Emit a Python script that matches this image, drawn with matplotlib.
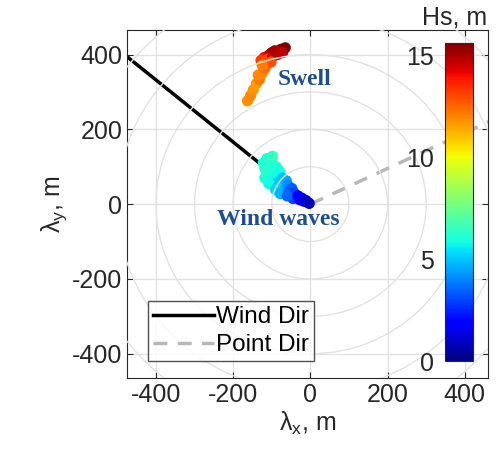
import numpy as np
import matplotlib
matplotlib.use("Agg")
import matplotlib.pyplot as plt
from matplotlib.patches import Circle

plt.rcParams['font.family'] = ['Liberation Sans', 'DejaVu Sans']
plt.rcParams['mathtext.default'] = 'regular'
plt.rcParams['axes.unicode_minus'] = False

# swell partition: wavelength components (m) and Hs (m)
swell_x = [-163, -155, -148, -140, -132, -135, -125, -118, -112, -120, -108, -100, -92, -85, -76,
           -65, -128, -110, -98, -88, -115, -102, -125, -72]
swell_y = [276, 290, 305, 322, 333, 345, 350, 362, 375, 392, 398, 405, 410, 400, 414,
           418, 384, 388, 394, 408, 370, 380, 372, 405]
swell_hs = [11.8, 12.0, 11.7, 11.6, 12.2, 11.9, 11.9, 12.3, 12.6, 13.8, 14.4, 14.9, 15.3, 14.2, 15.5,
            15.6, 13.2, 13.0, 14.6, 15.0, 12.4, 12.9, 12.1, 14.8]

# wind sea partition
wind_x = [-122, -118, -112, -108, -104, -100, -96, -110, -118, -102, -92, -88, -85, -95, -108, -80, -114, -98,
          -80, -72, -75, -68, -62, -85, -65, -58, -70, -90, -78,
          -55, -48, -50, -42, -38, -45, -60,
          -32, -28, -22, -18, -12, -8, -3]
wind_y = [110, 95, 122, 100, 85, 112, 95, 75, 70, 65, 80, 100, 70, 55, 55, 88, 88, 128,
          60, 70, 48, 55, 62, 45, 40, 50, 32, 38, 28,
          35, 42, 25, 30, 20, 15, 22,
          22, 12, 16, 8, 10, 5, 2]
wind_hs = [6.0, 6.2, 6.1, 6.2, 5.9, 6.2, 6.0, 5.9, 6.1, 5.8, 6.0, 6.2, 5.8, 5.5, 5.8, 5.9, 6.2, 6.4,
           5.1, 4.9, 4.7, 4.6, 4.5, 5.0, 4.3, 4.1, 4.4, 5.2, 4.7,
           3.6, 3.4, 3.2, 3.0, 2.8, 2.9, 3.5,
           2.0, 1.8, 1.6, 1.4, 1.2, 1.0, 0.8]

wind_dir_deg = 140.3
point_dir_deg = 25.5
circle_r = [100, 200, 300, 400, 500, 600]
ticks = [-400, -200, 0, 200, 400]

fig = plt.figure(figsize=(5.02, 4.72), dpi=100)
ax = fig.add_axes([0.253, 0.199, 0.719, 0.737])

# range rings
for r in circle_r:
    ax.add_patch(Circle((0, 0), r, fill=False, ec='#e2e2e2', lw=1.0, zorder=4))
ax.grid(True, color='#e2e2e2', lw=1.0)
ax.set_axisbelow(True)

L = 900
wl, = ax.plot([0, L*np.cos(np.radians(wind_dir_deg))], [0, L*np.sin(np.radians(wind_dir_deg))],
              color='black', lw=2.5, zorder=2, label='Wind Dir')
pl, = ax.plot([0, L*np.cos(np.radians(point_dir_deg))], [0, L*np.sin(np.radians(point_dir_deg))],
              color='#b8b8b8', lw=2.5, ls=(0, (4, 3)), zorder=2, label='Point Dir')

vmin, vmax = 0, 15.6
ax.scatter(wind_x, wind_y, c=wind_hs, cmap='jet', vmin=vmin, vmax=vmax, s=65, lw=0, zorder=3)
sc = ax.scatter(swell_x, swell_y, c=swell_hs, cmap='jet', vmin=vmin, vmax=vmax, s=65, lw=0, zorder=3)

ax.text(-85, 334, 'Swell', color='#1f4e8c', fontsize=17, fontweight='bold',
        family='Liberation Serif', ha='left', va='center', zorder=5)
ax.text(-82, -42, 'Wind waves', color='#1f4e8c', fontsize=17, fontweight='bold',
        family='Liberation Serif', ha='center', va='center', zorder=5)

ax.set_xlim(-475, 460)
ax.set_ylim(-465, 465)
ax.set_xticks(ticks)
ax.set_yticks(ticks)
ax.tick_params(labelsize=18, colors='#262626', direction='in', top=True, right=True, length=4)
for s in ax.spines.values():
    s.set_color('#262626')
ax.set_xlabel(r'$\lambda_x$, m', fontsize=18, color='#262626', labelpad=2)
ax.set_ylabel(r'$\lambda_y$, m', fontsize=18, color='#262626', labelpad=2)

leg = ax.legend(handles=[wl, pl], loc='lower left', bbox_to_anchor=(0.058, 0.049),
                fontsize=17.5, frameon=True, fancybox=False, edgecolor='#262626',
                handlelength=2.5, handletextpad=0.1, borderpad=0.2, labelspacing=0.25,
                borderaxespad=0)
leg.get_frame().set_linewidth(1.0)
leg.set_zorder(6)

cax = fig.add_axes([0.886, 0.235, 0.056, 0.674])
cb = fig.colorbar(sc, cax=cax)
cb.set_ticks([0, 5, 10, 15])
cb.ax.yaxis.set_ticks_position('left')
cb.ax.tick_params(labelsize=18, colors='#262626', length=0, pad=8)
cb.outline.set_edgecolor('#262626')
fig.text(0.905, 0.962, 'Hs, m', fontsize=18, color='#262626', ha='center', va='center')

fig.savefig('out.png', dpi=100)
